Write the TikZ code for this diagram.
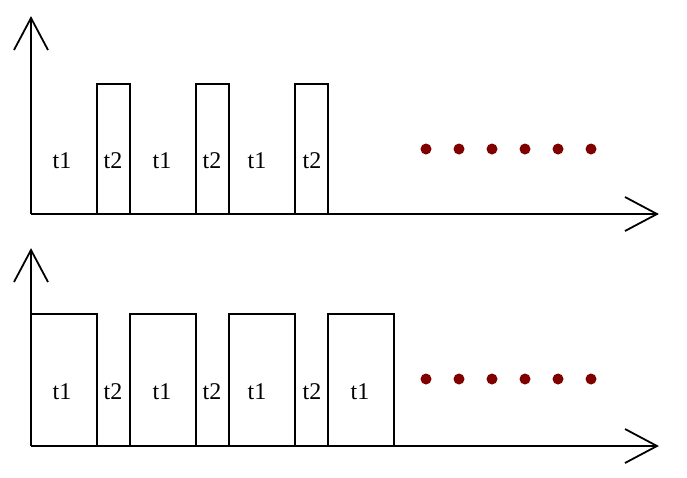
\documentclass[tikz,border=0pt]{standalone}
\usepackage{fontspec}
\setmainfont{Liberation Serif}
\definecolor{dotred}{RGB}{128,0,0}
\begin{document}
\begin{tikzpicture}[x=1pt,y=-1pt,line width=1.8pt,line join=miter,
  lbl/.style={font=\fontsize{24}{24}\selectfont,inner sep=0pt},
  dot/.style={fill=dotred,draw=none}]
\useasboundingbox (0,0) rectangle (687,477);
% top axes
\draw (31,214) -- (31,18);
\draw (14,50) -- (31,18) -- (48,50);
\draw (31,214) -- (657,214);
\draw (625,197) -- (657,214) -- (625,231);
\foreach \a in {97,196,295}
  \draw (\a,214) -- (\a,84) -- (\a+33,84) -- (\a+33,214);
\foreach \x in {62,162,257} \node[lbl] at (\x,161) {t1};
\foreach \x in {113,212,312} \node[lbl] at (\x,161) {t2};
\foreach \x in {426,459,492,525,558,591} \fill[dot] (\x,149) circle (5.5);
% bottom axes
\draw (31,446) -- (31,250);
\draw (14,282) -- (31,250) -- (48,282);
\draw (31,446) -- (657,446);
\draw (625,429) -- (657,446) -- (625,463);
\draw (31,314) -- (97,314) -- (97,446);
\foreach \a in {130,229,328}
  \draw (\a,446) -- (\a,314) -- (\a+66,314) -- (\a+66,446);
\foreach \x in {62,162,257,360} \node[lbl] at (\x,392) {t1};
\foreach \x in {113,212,312} \node[lbl] at (\x,392) {t2};
\foreach \x in {426,459,492,525,558,591} \fill[dot] (\x,379) circle (5.5);
\end{tikzpicture}
\end{document}
